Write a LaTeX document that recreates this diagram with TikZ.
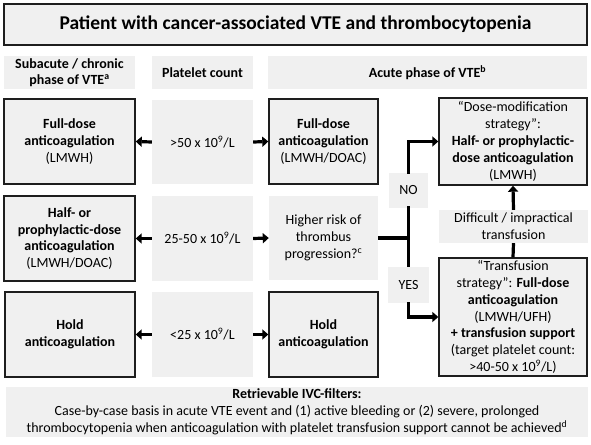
\documentclass[tikz,border=0pt]{standalone}
\usepackage{fontspec}
\setmainfont{Carlito}
\usetikzlibrary{arrows.meta}
\definecolor{boxfill}{RGB}{240,240,240}
\definecolor{boxline}{RGB}{30,30,30}
\tikzset{
  base/.style={rectangle, inner sep=0pt, align=center, font=\fontsize{14}{16.8}\selectfont, text=black},
  framed/.style={base, fill=boxfill, draw=boxline, line width=1.4pt},
  plain/.style={base, fill=boxfill},
  conn/.style={line width=3.2pt, draw=black},
  arr/.style={conn, -{Triangle[length=6pt,width=10pt]}},
}
\newcommand{\sups}[1]{\textsuperscript{#1}}
\begin{document}
\begin{tikzpicture}[x=1pt,y=-1pt]
\useasboundingbox (0,0) rectangle (591,444);
\node[framed, minimum width=583, minimum height=41, font=\fontsize{19.5}{23}\selectfont\bfseries] (title) at (295.5,24.5) {Patient with cancer-associated VTE and thrombocytopenia};
% headers
\node[plain, minimum width=131, minimum height=33, font=\fontsize{14}{16}\selectfont\bfseries] (h1) at (69.5,72.5) {Subacute / chronic\\phase of VTE\sups{a}};
\node[plain, minimum width=101, minimum height=33, font=\fontsize{14}{16}\selectfont\bfseries] (h2) at (202.5,72.5) {Platelet count};
\node[plain, minimum width=319, minimum height=33, font=\fontsize{14}{16}\selectfont\bfseries] (h3) at (427.5,72.5) {Acute phase of VTE\sups{b}};
% row 1
\node[framed, minimum width=131, minimum height=85] (r1a) at (69.5,141.5) {\textbf{Full-dose}\\\textbf{anticoagulation}\\(LMWH)};
\node[plain, minimum width=101, minimum height=84] (r1b) at (202.5,142) {>50 x 10\sups{9}/L};
\node[framed, minimum width=109, minimum height=85] (r1c) at (323.5,141.5) {\textbf{Full-dose}\\\textbf{anticoagulation}\\(LMWH/DOAC)};
\node[framed, minimum width=148, minimum height=87] (tr) at (513,141.5) {“Dose-modification\\strategy”:\\\textbf{Half- or prophylactic-}\\\textbf{dose anticoagulation}\\(LMWH)};
% row 2
\node[framed, minimum width=131, minimum height=85] (r2a) at (69.5,238.5) {\textbf{Half- or}\\\textbf{prophylactic-dose}\\\textbf{anticoagulation}\\(LMWH/DOAC)};
\node[plain, minimum width=101, minimum height=85] (r2b) at (202.5,238.5) {25-50 x 10\sups{9}/L};
\node[plain, minimum width=109, minimum height=84] (r2c) at (323.5,238) {Higher risk of\\thrombus\\progression?\sups{c}};
\node[plain, minimum width=39, minimum height=35] (no) at (408.5,190.5) {NO};
\node[plain, minimum width=41, minimum height=36] (yes) at (408.5,285) {YES};
\node[plain, minimum width=149, minimum height=33] (diff) at (513.5,226.5) {Difficult / impractical\\transfusion};
\node[framed, minimum width=148, minimum height=118] (tf) at (513,317) {“Transfusion\\strategy”: \textbf{Full-dose}\\\textbf{anticoagulation}\\(LMWH/UFH)\\\textbf{+ transfusion support}\\(target platelet count:\\>40-50 x 10\sups{9}/L)};
% row 3
\node[framed, minimum width=130, minimum height=85] (r3a) at (70,334.5) {\textbf{Hold}\\\textbf{anticoagulation}};
\node[plain, minimum width=101, minimum height=85] (r3b) at (202.5,334.5) {<25 x 10\sups{9}/L};
\node[framed, minimum width=109, minimum height=85] (r3c) at (323.5,334.5) {\textbf{Hold}\\\textbf{anticoagulation}};
% IVC
\node[plain, minimum width=582, minimum height=50] (ivc) at (297,412) {\textbf{Retrievable IVC-filters:}\\Case-by-case basis in acute VTE event and (1) active bleeding or (2) severe, prolonged\\thrombocytopenia when anticoagulation with platelet transfusion support cannot be achieved\sups{d}};
% arrows
\draw[arr] (r1b.west) -- (r1a.east);
\draw[arr] (r1b.east) -- (r1c.west);
\draw[arr] (r2b.west) -- (r2a.east);
\draw[arr] (r2b.east) -- (r2c.west);
\draw[arr] (r3b.west) -- (r3a.east);
\draw[arr] (r3b.east) -- (r3c.west);
\coordinate (j) at (no.south |- r2c.east);
\draw[conn] (r2c.east) -- (j);
\draw[conn] ([yshift=2pt]no.south) -- ([yshift=-0.5pt]yes.north);
\draw[arr] ([yshift=-1pt]no.north) |- (tr.west);
\draw[arr] ([yshift=1pt]yes.south) |- (tf.west);
\draw[conn] (tf.north) -- (diff.south);
\draw[arr] (diff.north) -- (tr.south);
\end{tikzpicture}
\end{document}
